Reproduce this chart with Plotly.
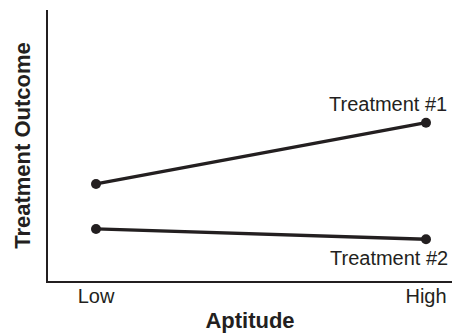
import plotly.graph_objects as go

aptitude = ["Low", "High"]
tick_positions = [0, 1]
treatment1 = [3.58, 5.84]
treatment2 = [1.92, 1.54]
series_names = ["Treatment #1", "Treatment #2"]

INK = "#231f20"
FONT = "Liberation Sans, Arial, Helvetica, sans-serif"

fig = go.Figure()
for name, vals in zip(series_names, [treatment1, treatment2]):
    fig.add_trace(go.Scatter(
        x=tick_positions, y=vals, mode="lines+markers", name=name,
        line=dict(color=INK, width=3.3),
        marker=dict(color=INK, size=10),
        showlegend=False, hoverinfo="skip",
    ))

fig.add_annotation(x=tick_positions[1], y=treatment1[1], xref="x", yref="y",
                   text=series_names[0], showarrow=False, xanchor="right",
                   yanchor="middle", xshift=23, yshift=19,
                   font=dict(family=FONT, size=20, color=INK))
fig.add_annotation(x=tick_positions[1], y=treatment2[1], xref="x", yref="y",
                   text=series_names[1], showarrow=False, xanchor="right",
                   yanchor="middle", xshift=24, yshift=-19,
                   font=dict(family=FONT, size=20, color=INK))

fig.update_layout(
    width=453, height=333,
    margin=dict(l=48, r=1, t=10, b=52),
    paper_bgcolor="white", plot_bgcolor="white",
    font=dict(family=FONT, color=INK),
    xaxis=dict(
        range=[-0.1455, 1.0788], tickvals=tick_positions, ticktext=aptitude,
        showgrid=False, zeroline=False, showline=True, linecolor=INK, linewidth=1.5,
        ticks="", tickfont=dict(size=20, color=INK), ticklabelstandoff=-4,
        title=dict(text="<b>Aptitude</b>", font=dict(size=22, color=INK), standoff=7),
    ),
    yaxis=dict(
        range=[0, 10], showticklabels=False, showgrid=False, zeroline=False,
        showline=True, linecolor=INK, linewidth=1.5, ticks="",
        title=dict(text="<b>Treatment Outcome</b>", font=dict(size=22, color=INK), standoff=10),
    ),
)

fig.write_html("out.html", config={"displayModeBar": False},
               post_script="document.body.style.margin='0px';document.body.style.overflow='hidden';")
